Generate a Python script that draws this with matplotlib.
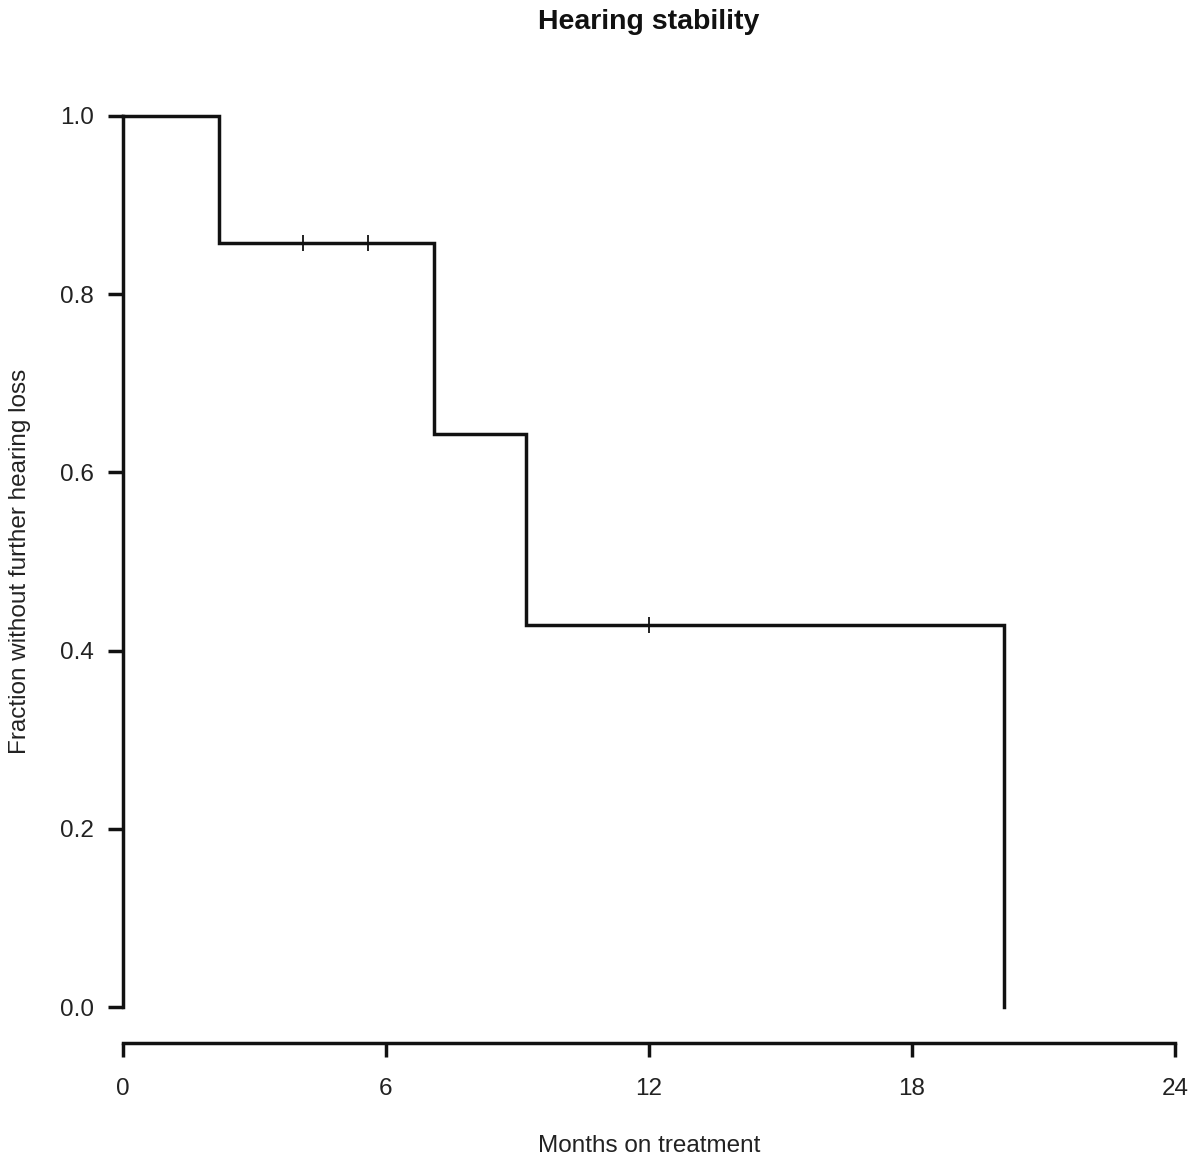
import numpy as np
import matplotlib
matplotlib.use('Agg')
import matplotlib.pyplot as plt

plt.rcParams['font.family'] = ['Liberation Sans', 'DejaVu Sans']

# Kaplan-Meier step curve
step_months = [0, 2.2, 7.1, 9.2, 20.1]
step_frac = [1.0, 0.857, 0.643, 0.429, 0.0]
# censored observations
cens_months = [4.1, 5.6, 12.0]
cens_frac = [0.857, 0.857, 0.429]

xticks = [0, 6, 12, 18, 24]
yticks = [0.0, 0.2, 0.4, 0.6, 0.8, 1.0]

W, H = 1202, 1158
fig = plt.figure(figsize=(W/100, H/100), dpi=100)
ax = fig.add_axes([123/W, 1 - 1007/H, (1175-123)/W, (1007-116)/H])

ink = '#111111'
ax.step(step_months, step_frac, where='post', color=ink, lw=2.5, clip_on=False,
        solid_joinstyle='miter')
ax.plot(cens_months, cens_frac, ls='none', marker='|', ms=12, mew=1.3, color=ink)

ax.set_xlim(0, 24)
ax.set_ylim(0, 1)
for s in ['top', 'right']:
    ax.spines[s].set_visible(False)
ax.spines['left'].set_bounds(0, 1)
ax.spines['bottom'].set_bounds(0, 24)
ax.spines['bottom'].set_position(('outward', 26))
for s in ['left', 'bottom']:
    ax.spines[s].set_linewidth(2.5)
    ax.spines[s].set_color(ink)

ax.set_xticks(xticks)
ax.set_xticklabels([str(t) for t in xticks])
ax.set_yticks(yticks)
ax.set_yticklabels(['%.1f' % t for t in yticks])
ax.tick_params(axis='x', length=10, width=2.5, color=ink, pad=15, labelsize=17.5, labelcolor='#222222')
ax.tick_params(axis='y', length=11, width=2.5, color=ink, pad=10, labelsize=17.5, labelcolor='#222222')

fig.text(649/W, 1 - 22/H, 'Hearing stability', ha='center', va='center',
         fontsize=20.5, fontweight='bold', color='#111111')
fig.text(649/W, 1 - 1146/H, 'Months on treatment', ha='center', va='center',
         fontsize=17.5, color='#222222')
fig.text(20/W, 1 - 561/H, 'Fraction without further hearing loss', ha='center', va='center',
         rotation=90, fontsize=17.5, color='#222222')

fig.savefig('out.png', dpi=100)
